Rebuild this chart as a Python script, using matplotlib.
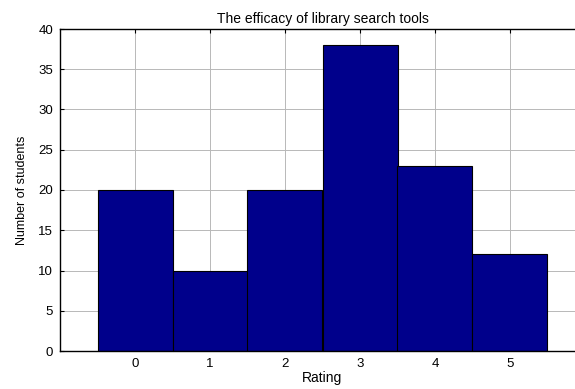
import numpy as np
import matplotlib
matplotlib.use('Agg')
import matplotlib.pyplot as plt

plt.rcParams['font.family'] = ['Liberation Sans', 'DejaVu Sans']

ratings = [0, 1, 2, 3, 4, 5]
students = [20, 10, 20, 38, 23, 12]
yticks = [0, 5, 10, 15, 20, 25, 30, 35, 40]

fig = plt.figure(figsize=(5.75, 3.89), dpi=100)
ax = fig.add_axes([60 / 575, 38 / 389, 525 / 575, 322 / 389])

ax.bar(ratings, students, width=1.0, color='#00008B', edgecolor='black',
       linewidth=0.8, zorder=2)

ax.set_xlim(-1, 6)
ax.set_ylim(0, 40)
ax.set_xticks(ratings)
ax.set_yticks(yticks)
ax.grid(True, color='#b8b8b8', linewidth=0.7, zorder=0)
ax.set_axisbelow(True)

ax.tick_params(direction='in', length=3, width=0.8, labelsize=9.5,
               top=True, right=False, pad=5)
for side in ['left', 'bottom', 'top']:
    ax.spines[side].set_linewidth(1.0)
ax.spines['right'].set_visible(False)

ax.set_title('The efficacy of library search tools', fontsize=10, pad=4)
ax.set_xlabel('Rating', fontsize=10, labelpad=1)
ax.set_ylabel('Number of students', fontsize=9, labelpad=7)

fig.savefig('out.png', dpi=100)
